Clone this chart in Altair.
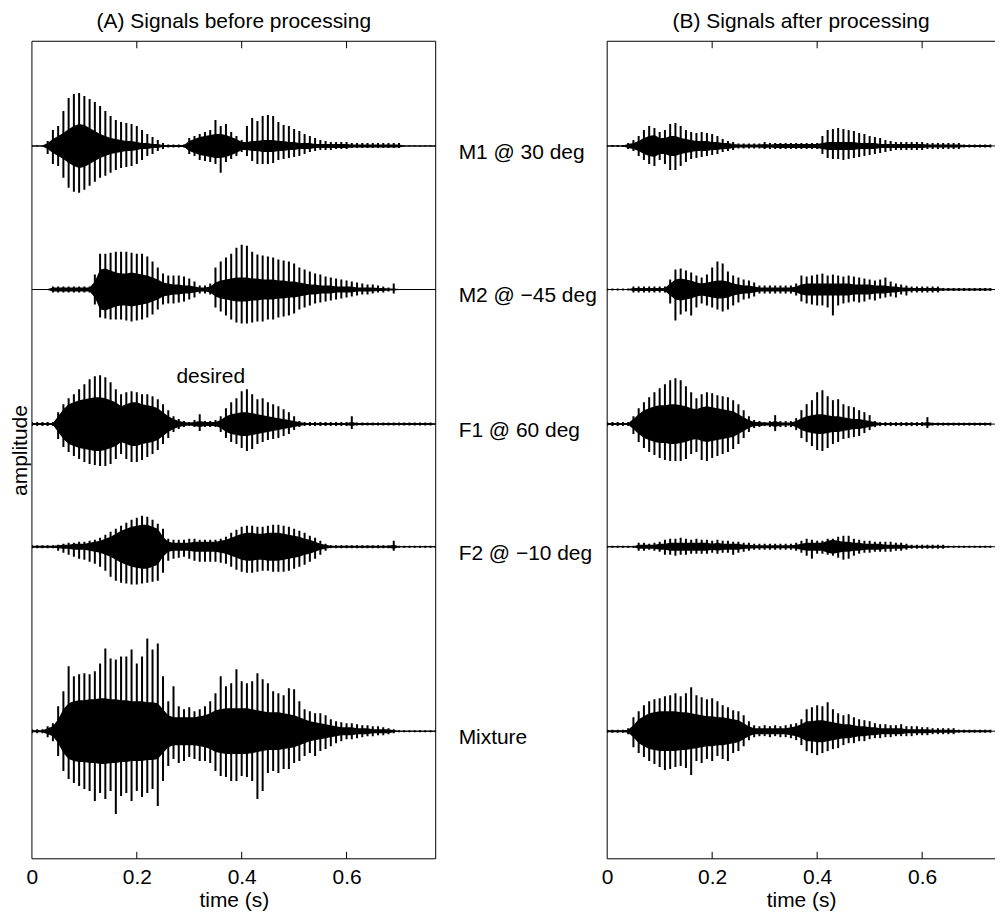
import altair as alt
import pandas as pd

FONT = "Liberation Sans"
FS = 21

# sample grid (s)
TIME = [round(i * 0.01, 2) for i in range(78)]
TRACES = ["M1", "M2", "F1", "F2", "Mixture"]
LABELS = ["M1 @ 30 deg", "M2 @ \u221245 deg", "F1 @ 60 deg", "F2 @ \u221210 deg", "Mixture"]
TRACE_DEPTH = [105, 249, 384, 507, 692]   # baseline of each trace, amplitude units below the top
XTICKS = [0, 0.2, 0.4, 0.6]
INNER_TICKS = [0.2, 0.4, 0.6]

# ---------- (A) before processing : peak up, peak down, dense core half-height ----------
L_M1_UP = [0.5,0.5,0.5,5,16,20,35,48,52,53, 50,47,44,40,35,30,26,24,23,22, 20,16,12,9,6,3,1.5,1.5,1.5,1.5,
           8,10,12,14,16,26,20,22,14,10, 6,20,28,25,30,31,30,24,21,20, 17,15,12,10,8,6,5,4,4,4,
           4,3,3,3,3,3,3,3,3,3, 3,0.5,0.5,0.5,0.5,0.5,0.5,0.5]
L_M1_LO = [0.5,0.5,0.5,8,18,20,32,42,46,47, 44,40,36,32,30,27,24,22,21,20, 18,14,10,8,5,3,1.5,1.5,1.5,1.5,
           8,10,14,15,16,18,27,16,13,10, 6,10,15,18,18,18,17,14,13,12, 11,10,8,6,5,4,4,4,3,3,
           3,2,2,2,2,2,2,2,2,2, 2,0.5,0.5,0.5,0.5,0.5,0.5,0.5]
L_M1_CORE = [0.5,0.5,0.5,3,7,10,13,17,20,22, 21,18,15,12,10,8,7,6,5,5, 4,3,3,2,2,1,1,1,1,1,
             5,7,9,10,11,12,12,11,9,7, 4,4,5,5,6,6,6,5,5,4, 4,3,3,3,2,2,2,2,2,2,
             2,1.5,1.5,1.5,1.5,1.5,1.5,1.5,1.5,1.5, 1.5,0.5,0.5,0.5,0.5,0.5,0.5,0.5]

L_M2_UP = [0.5,0.5,0.5,0.5,3,3,3,3,3,3, 3,3,15,36,36,37,38,38,38,37, 36,36,33,28,22,16,14,14,14,13,
           11,8,4,4,6,22,28,32,36,42, 45,44,38,35,34,33,32,30,29,28, 26,22,20,18,16,15,13,12,11,10,
           9,8,7,6,5,5,4,3,2,6, 0.5,0.5,0.5,0.5,0.5,0.5,0.5,0.5]
L_M2_LO = [0.5,0.5,0.5,0.5,3,3,3,3,3,3, 3,3,15,28,29,30,30,30,31,32, 31,30,28,25,20,15,14,14,13,12,
           10,8,4,4,5,18,22,26,30,33, 34,34,33,32,32,30,30,28,27,26, 24,20,18,16,14,13,12,11,10,9,
           8,7,6,5,5,4,3,3,2,4, 0.5,0.5,0.5,0.5,0.5,0.5,0.5,0.5]
L_M2_CORE = [0.5,0.5,0.5,0.5,2,2,2,2,2,2, 2,2,8,20,21,19,17,16,16,17, 16,15,14,12,10,7,6,5,5,4,
             4,3,2,2,3,7,9,10,11,12, 12,12,11,11,10,10,10,9,9,8, 8,7,6,5,5,4,4,4,3,3,
             3,3,2,2,2,2,1.5,1.5,1,1, 0.5,0.5,0.5,0.5,0.5,0.5,0.5,0.5]

L_F1_UP = [2,2,2,2,2,12,20,26,30,35, 40,45,48,49,47,42,35,30,32,33, 32,30,30,28,25,20,14,8,5,3,
           2,4,10,3,3,4,8,16,22,26, 33,35,30,25,26,22,20,18,15,12, 8,3,2,2,2,2,2,2,2,2,
           2,8,1.5,1.5,1.5,1.5,1.5,1.5,1.5,1.5, 1.5,1.5,1.5,1.5,1.5,1.5,1.5,0.5]
L_F1_LO = [2,2,2,2,2,15,23,28,32,35, 38,40,41,42,42,40,35,30,35,38, 38,36,33,30,26,20,14,8,5,3,
           2,3,7,3,3,3,8,14,18,20, 24,27,25,20,18,16,15,14,12,10, 6,3,2,2,2,2,2,2,2,2,
           2,5,1.5,1.5,1.5,1.5,1.5,1.5,1.5,1.5, 1.5,1.5,1.5,1.5,1.5,1.5,1.5,0.5]
L_F1_CORE = [1,1,1,1,1,8,15,20,22,24, 25,26,27,27,26,24,22,18,20,22, 22,20,19,18,16,12,8,5,3,2,
             1.5,2,3,2,2,2,4,8,10,11, 12,12,11,10,9,8,7,6,5,4, 3,2,1,1,1,1,1,1,1,1,
             1,2,1,1,1,1,1,1,1,1, 1,1,1,1,1,1,1,0.5]

L_F2_UP = [1.5,1.5,1.5,1.5,1.5,2,3,4,4,5, 5,6,7,9,12,15,18,21,24,27, 29,31,30,27,23,18,8,7,7,7,
           8,8,7,7,7,7,8,10,14,17, 20,21,21,20,20,21,22,22,21,20, 18,16,14,11,9,6,3,1.5,1.5,1.5,
           1.5,1.5,1.5,1.5,1.5,1.5,1.5,1.5,1.5,6, 1,1,1,1,1,1,1,1]
L_F2_LO = [1.5,1.5,1.5,1.5,1.5,4,6,8,10,12, 13,15,17,20,24,30,34,36,37,38, 38,37,36,35,34,26,14,12,11,10,
           12,14,15,15,15,15,16,17,20,23, 25,26,26,25,24,24,25,25,25,24, 22,20,18,15,12,8,4,1.5,1.5,1.5,
           1.5,1.5,1.5,1.5,1.5,1.5,1.5,1.5,1.5,4, 1,1,1,1,1,1,1,1]
L_F2_CORE = [1,1,1,1,1,1.5,2,2,3,3, 3,4,5,6,8,10,13,16,18,20, 21,22,22,20,18,10,5,4,4,4,
             4,5,5,5,5,5,6,7,9,11, 13,14,14,13,13,14,14,14,13,12, 11,10,8,7,5,3,2,1,1,1,
             1,1,1,1,1,1,1,1,1,2, 0.5,0.5,0.5,0.5,0.5,0.5,0.5,0.5]

L_MX_UP = [2,2,2,5,8,25,40,65,55,57, 58,57,60,68,83,73,72,75,75,82, 68,75,93,82,88,55,30,45,25,22,
           24,20,22,25,30,38,55,45,48,62, 50,48,50,58,52,48,40,38,36,43, 42,30,22,20,18,18,16,12,10,9,
           8,8,7,6,6,5,5,4,3,2, 1,1,1,1,1,1,1,1]
L_MX_LO = [2,2,2,6,10,25,40,48,52,55, 58,60,70,62,68,60,83,65,62,70, 60,66,62,58,75,50,35,28,32,30,
           26,28,30,30,32,40,45,46,50,50, 45,46,50,68,60,42,40,42,38,38, 32,30,25,22,25,20,18,15,12,10,
           8,8,7,6,5,5,4,4,3,2, 1,1,1,1,1,1,1,1]
L_MX_CORE = [1,1,1,3,5,12,22,28,30,31, 31,32,32,33,33,32,32,31,31,30, 30,30,29,29,28,22,16,14,14,14,
             14,14,15,16,18,21,22,23,23,23, 23,23,22,21,20,19,19,19,18,17, 16,14,12,10,9,8,7,6,5,4,
             4,4,3,3,3,2,2,2,2,1, 0.5,0.5,0.5,0.5,0.5,0.5,0.5,0.5]

# ---------- (B) after processing ----------
R_M1_UP = [1,1,1,1,3,6,10,16,20,18, 14,16,22,23,20,16,14,13,14,13, 12,10,7,5,4,2.5,2.5,2.5,2.5,2.5,
           4,3,3,3,3,3,3,3,3,3, 3,10,16,17,18,17,16,15,13,12, 10,9,8,6,5,4,4,4,4,4,
           4,3,3,3,3,3,3,3,1.5,1.5, 1.5,1.5,1.5,1.5,1.5,1.5,1.5,1.5]
R_M1_LO = [1,1,1,1,3,5,10,14,18,20, 14,18,24,24,20,16,13,12,11,10, 9,8,6,5,4,2.5,2.5,2.5,2.5,2.5,
           3,3,3,3,3,3,3,3,3,3, 3,8,12,13,13,14,13,12,11,10, 9,8,7,6,5,4,4,4,4,4,
           4,3,3,3,3,3,3,3,1.5,1.5, 1.5,1.5,1.5,1.5,1.5,1.5,1.5,1.5]
R_M1_CORE = [0.5,0.5,0.5,0.5,2,3,5,8,10,11, 8,8,10,10,8,7,6,5,5,5, 4,4,3,3,2,1.5,1.5,1.5,1.5,1.5,
             2,1.5,2,2,2,2,2,2,2,2, 2,3,4,4,4,4,4,4,3,3, 3,3,2,2,2,2,2,2,2,2,
             2,1.5,1.5,1.5,1.5,1.5,1.5,1.5,1,1, 1,1,1,1,1,1,1,1]

R_M2_UP = [1,1,1,1,1,3,3,3,3,3, 3,3,10,20,21,19,17,14,12,15, 22,28,26,18,14,12,10,9,7,4,
           4,4,4,4,4,4,6,14,13,14, 15,16,14,15,14,13,14,13,12,11, 10,9,10,12,8,6,5,4,3,3,
           3,3,3,3,1.5,1.5,1.5,1.5,1.5,1.5, 1.5,1.5,1.5,1.5,1.5,1.5,1.5,1]
R_M2_LO = [1,1,1,1,1,3,3,3,3,3, 3,3,14,31,25,22,26,18,14,16, 18,20,22,20,16,13,10,9,7,4,
           4,4,4,4,4,4,6,12,14,15, 16,16,18,26,16,14,13,12,13,12, 10,11,9,8,7,8,5,6,3,3,
           3,3,3,3,1.5,1.5,1.5,1.5,1.5,1.5, 1.5,1.5,1.5,1.5,1.5,1.5,1.5,1]
R_M2_CORE = [0.5,0.5,0.5,0.5,0.5,1.5,1.5,1.5,1.5,1.5, 1.5,1.5,6,10,11,10,9,7,6,7, 8,9,9,8,6,5,4,4,3,2,
             2,2,2,2,2,2,3,5,6,6, 6,6,6,6,6,6,6,5,5,5, 5,4,4,4,3,3,2,2,1.5,1.5,
             1.5,1.5,1.5,1.5,1,1,1,1,1,1, 1,1,1,1,1,1,1,0.5]

R_F1_UP = [2,2,2,2,2,8,16,22,27,32, 36,40,44,46,44,38,32,26,30,32, 31,29,28,27,24,20,14,8,4,3,
           2,3,9,3,3,3,6,14,20,24, 32,34,28,24,25,20,18,17,14,12, 9,3,2,2,2,2,2,2,2,2,
           2,7,1.5,1.5,1.5,1.5,1.5,1.5,1.5,1.5, 1.5,1.5,1.5,1.5,1.5,1.5,1.5,1.5]
R_F1_LO = [2,2,2,2,2,10,18,24,28,31, 34,36,37,37,37,35,30,28,36,37, 34,32,30,28,25,20,14,8,4,3,
           2,3,7,3,3,3,6,14,18,22, 26,27,24,20,18,15,14,13,12,9, 6,3,2,2,2,2,2,2,2,2,
           2,4,1.5,1.5,1.5,1.5,1.5,1.5,1.5,1.5, 1.5,1.5,1.5,1.5,1.5,1.5,1.5,1.5]
R_F1_CORE = [1,1,1,1,1,5,10,14,16,18, 19,19,20,20,19,18,16,15,17,18, 17,16,15,14,13,10,7,4,2,2,
             1.5,1.5,3,1.5,1.5,1.5,3,6,8,9, 10,10,9,8,8,7,6,5,5,4, 3,2,1,1,1,1,1,1,1,1,
             1,2,1,1,1,1,1,1,1,1, 1,1,1,1,1,1,1,1]

R_F2_UP = [1,1,1,1,1,1,4,4,3,4, 5,7,8,8,9,8,7,8,7,7, 6,7,6,6,5,5,4,4,3,3,
           3,3,3,3,3,3,4,6,8,7, 6,6,8,8,10,11,11,8,7,6, 6,5,5,5,5,4,4,3,2,2,
           2,2,2,2,2,1,1,1,1,1, 1,1,1,1,1,1,1,1]
R_F2_LO = [1,1,1,1,1,1,4,4,3,4, 5,8,8,9,8,8,7,7,7,7, 6,7,6,6,8,6,5,4,3,3,
           3,3,3,3,3,3,4,6,9,12, 7,7,8,9,11,13,12,9,7,6, 6,5,5,5,5,4,4,3,2,2,
           2,2,2,2,2,1,1,1,1,1, 1,1,1,1,1,1,1,1]
R_F2_CORE = [0.5,0.5,0.5,0.5,0.5,0.5,2,2,2,2, 3,3,4,4,4,4,4,4,4,4, 3,4,3,3,3,3,2,2,1.5,1.5,
             1.5,1.5,1.5,1.5,1.5,1.5,2,3,4,4, 4,4,6,7,6,5,5,4,4,3, 3,3,3,2,2,2,2,1.5,1,1,
             1,1,1,1,1,0.5,0.5,0.5,0.5,0.5, 0.5,0.5,0.5,0.5,0.5,0.5,0.5,0.5]

R_MX_UP = [1.5,1.5,1.5,1.5,3,14,20,26,30,32, 33,35,36,38,35,38,44,36,34,32, 33,30,26,24,21,20,16,10,6,5,
           6,5,6,5,6,7,8,12,22,24, 26,25,29,22,18,16,17,14,12,11, 10,8,7,7,6,6,7,5,5,5,
           4,4,3,3,3,3,3,1.5,1.5,1.5, 1.5,1.5,1.5,1.5,1.5,1.5,1.5,1.5]
R_MX_LO = [1.5,1.5,1.5,1.5,3,16,22,26,30,33, 36,39,38,36,35,37,44,30,32,28, 30,25,28,30,22,20,15,9,6,5,
           5,6,5,6,6,7,9,14,20,22, 24,22,20,18,17,14,12,12,10,10, 8,7,7,6,6,5,5,5,5,4,
           4,4,3,3,3,3,3,1.5,1.5,1.5, 1.5,1.5,1.5,1.5,1.5,1.5,1.5,1.5]
R_MX_CORE = [1,1,1,1,1.5,6,12,15,18,19, 20,20,20,20,19,19,18,17,16,15, 15,14,14,13,12,11,8,5,3,3,
             3,3,3,3,3,4,5,7,10,10, 11,11,10,9,8,7,7,6,5,5, 4,4,3,3,3,3,3,2,2,2,
             2,2,1.5,1.5,1.5,1.5,1.5,1,1,1, 1,1,1,1,1,1,1,1]

LEFT = [(L_M1_UP, L_M1_LO, L_M1_CORE), (L_M2_UP, L_M2_LO, L_M2_CORE), (L_F1_UP, L_F1_LO, L_F1_CORE),
        (L_F2_UP, L_F2_LO, L_F2_CORE), (L_MX_UP, L_MX_LO, L_MX_CORE)]
RIGHT = [(R_M1_UP, R_M1_LO, R_M1_CORE), (R_M2_UP, R_M2_LO, R_M2_CORE), (R_F1_UP, R_F1_LO, R_F1_CORE),
         (R_F2_UP, R_F2_LO, R_F2_CORE), (R_MX_UP, R_MX_LO, R_MX_CORE)]

H = 820
W_L, XMAX_L = 405, 0.77
W_R, XMAX_R = 389, 0.7388
OFFSETS = [H - d for d in TRACE_DEPTH]


def build(arrays, xmax):
    rows = []
    for name, off, (up, lo, core) in zip(TRACES, OFFSETS, arrays):
        assert len(up) == len(lo) == len(core) == len(TIME), name
        for t, u, l, c in zip(TIME, up, lo, core):
            if t > xmax + 1e-9:
                continue
            rows.append(dict(trace=name, t=t, top=off + u, bottom=off - l,
                             ctop=off + c, cbot=off - c))
    return pd.DataFrame(rows)


def panel(arrays, width, xmax, title, right):
    df = build(arrays, xmax)
    xs = alt.Scale(domain=[0, xmax], nice=False, zero=False)
    ys = alt.Scale(domain=[0, H], nice=False, zero=False)
    xaxis = alt.Axis(values=XTICKS, format="~g", title="time (s)", ticks=False, domain=False,
                     grid=False, labelFontSize=FS, titleFontSize=FS, labelPadding=8,
                     titlePadding=2, labelColor="black", titleColor="black",
                     titleFontWeight="normal", labelFlush=False, labelFont=FONT, titleFont=FONT)
    if right:
        yaxis = None
    else:
        yaxis = alt.Axis(title="amplitude", labels=False, ticks=False, domain=False, grid=False,
                         titleFontSize=FS, titleFontWeight="normal", titlePadding=1,
                         titleColor="black", titleFont=FONT)

    core = alt.Chart(df).mark_area(color="black", clip=True, orient="vertical",
                                   interpolate="linear").encode(
        x=alt.X("t:Q", scale=xs, axis=xaxis),
        y=alt.Y("cbot:Q", scale=ys, axis=yaxis),
        y2="ctop:Q",
        detail="trace:N",
    )
    spikes = alt.Chart(df).mark_rule(color="black", strokeWidth=2, clip=True).encode(
        x=alt.X("t:Q", scale=xs, axis=xaxis),
        y=alt.Y("bottom:Q", scale=ys, axis=yaxis),
        y2="top:Q",
    )
    base_df = pd.DataFrame({"base": OFFSETS, "label": LABELS})
    baseline = alt.Chart(base_df).mark_rule(color="black", strokeWidth=1).encode(
        y=alt.Y("base:Q", scale=ys, axis=yaxis), x=alt.value(0), x2=alt.value(width))

    tick_df = pd.DataFrame({"t": INNER_TICKS})
    top_ticks = alt.Chart(tick_df).mark_rule(color="black").encode(
        x=alt.X("t:Q", scale=xs, axis=xaxis), y=alt.value(0), y2=alt.value(7))
    bot_ticks = alt.Chart(tick_df).mark_rule(color="black").encode(
        x=alt.X("t:Q", scale=xs, axis=xaxis), y=alt.value(H - 7), y2=alt.value(H))

    one = pd.DataFrame({"k": [0]})
    frame = [
        alt.Chart(one).mark_rule(color="black").encode(x=alt.value(0), x2=alt.value(width), y=alt.value(0)),
        alt.Chart(one).mark_rule(color="black").encode(x=alt.value(0), x2=alt.value(width), y=alt.value(H)),
        alt.Chart(one).mark_rule(color="black").encode(x=alt.value(0), y=alt.value(0), y2=alt.value(H)),
    ]
    if not right:
        frame.append(alt.Chart(one).mark_rule(color="black").encode(
            x=alt.value(width), y=alt.value(0), y2=alt.value(H)))

    layers = [baseline, core, spikes, top_ticks, bot_ticks] + frame
    if right:
        labels = alt.Chart(base_df).mark_text(align="left", baseline="middle", fontSize=FS, dy=7,
                                              font=FONT, color="black").encode(
            x=alt.value(-149), y=alt.Y("base:Q", scale=ys, axis=None), text="label:N")
        layers.append(labels)
    else:
        desired = alt.Chart(pd.DataFrame({"label": ["desired"]})).mark_text(
            align="left", baseline="middle", fontSize=FS, font=FONT, color="black").encode(
            x=alt.value(145), y=alt.value(337), text="label:N")
        layers.append(desired)

    return alt.layer(*layers).properties(
        width=width, height=H,
        title=alt.TitleParams(title, fontSize=FS, fontWeight="normal", font=FONT,
                              anchor="middle", offset=9, color="black"),
    )


left = panel(LEFT, W_L, XMAX_L, "(A) Signals before processing", False)
right = panel(RIGHT, W_R, XMAX_R, "(B) Signals after processing", True)

chart = alt.hconcat(left, right, spacing=172, bounds="flush").configure_view(
    stroke=None).properties(padding={"left": 2, "top": 1, "right": 0, "bottom": 0})

chart.save("out.html", embed_options={"renderer": "svg", "actions": False})
